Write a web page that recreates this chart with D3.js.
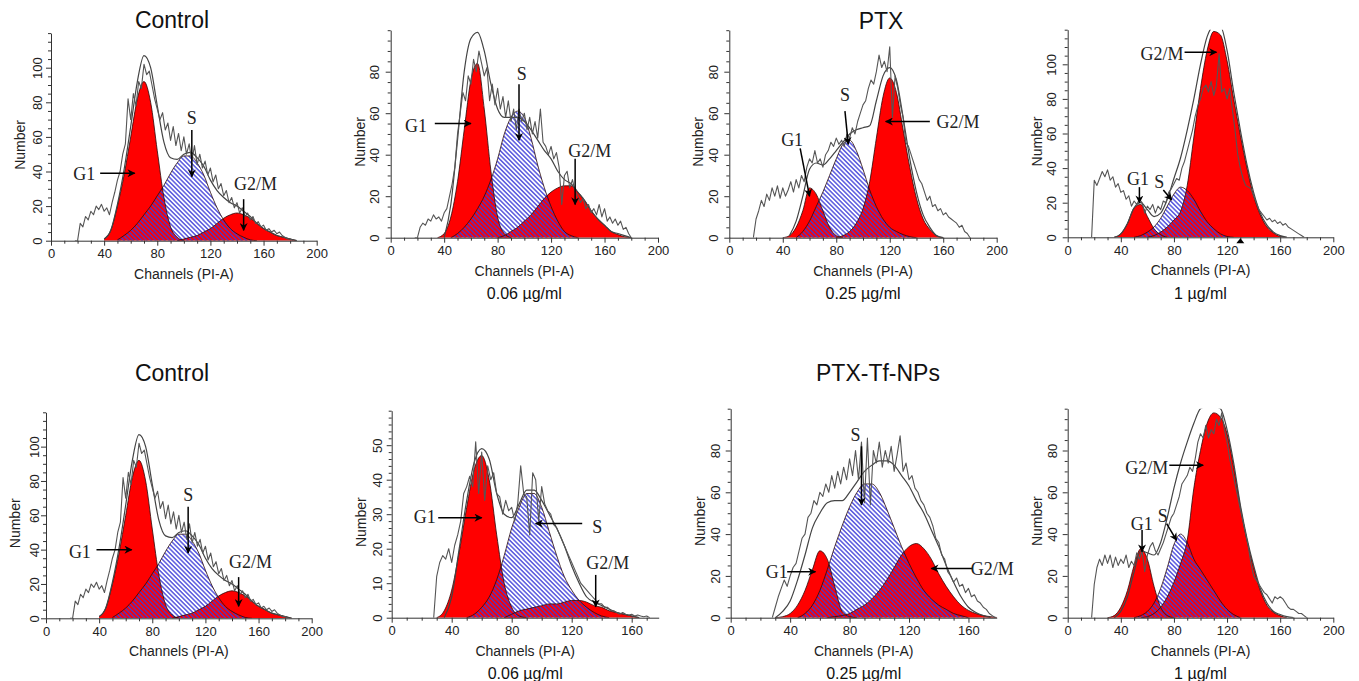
<!DOCTYPE html>
<html>
<head>
<meta charset="utf-8">
<script src="https://cdn.jsdelivr.net/npm/d3@7"></script>
<style>
  html, body { margin: 0; padding: 0; background: #fff; }
  svg { display: block; }
</style>
</head>
<body>
<svg id="fig" width="1359" height="681"></svg>
<script>
// ---------------------------------------------------------------------------
// DNA histograms (PI-A channels) with ModFit-style G1 / S / G2/M components.
// Raw counts are listed every 2 channels; fitted curves every 5 channels.
// ---------------------------------------------------------------------------

// Control (untreated cells)
const controlRaw = [0,0,10,8,14,12,17,15,20,18,21,17,19,15,22,28,35,40,50,56,82,70,85,78,92,88,102,96,98,90,82,76,70,74,64,68,58,66,55,62,52,60,50,56,46,55,44,50,42,46,38,42,34,38,30,33,26,29,22,25,19,22,16,19,14,16,12,14,10,11,8,9,6,7,5,6,4,5,3,2,1,1,0];
const controlFit = [1,6,21,41,66,92,107,100,78,57,48,47,50,51,48,43,35,29,25,22,20,17,14,10,7,5,3,2,1,0];
const controlG1  = [1,6,20,38,60,82,92,80,52,25,8,2,0];
const controlS   = [0.5,3,6,10,15,20,26,32,39,45,49,49,45,38,28,19,12,7,4,2,0.5,0];
const controlG2M = [0,1,2,3,5,7,10,13,15,16,15,13,10,7,5,3,2,1,0];

// PTX 0.06 µg/ml
const ptx06Raw = [0,0,5,7,6,9,8,11,9,10,8,12,14,20,26,34,50,60,70,66,78,74,86,80,90,84,78,82,66,74,64,72,62,68,58,66,56,62,52,62,56,60,52,58,50,56,48,62,46,44,40,44,38,41,34,16,30,32,24,28,22,20,17,19,14,16,12,14,11,16,10,14,8,10,7,9,6,8,4,5,2,0];
const ptx06Fit = [0,16,47,80,96,99,90,74,62,58,58,58,56,52,47,42,38,32,28,26,22,18,13,9,6,3,2,1,0];
const ptx06G1  = [0,2,10,27,52,76,84,62,32,10,2,0];
const ptx06S   = [0,2,5,9,14,20,28,38,50,58,61,58,48,35,24,15,8,3,1,0];
const ptx06G2M = [0,1,3,5,8,11,15,19,22,24,25,25,22,18,13,9,6,3,1.5,0.5,0];

// PTX 0.25 µg/ml
const ptx25Raw = [0,9,13,18,15,21,18,24,20,25,19,24,20,23,27,22,28,24,30,27,34,38,36,42,36,38,34,40,42,46,44,48,45,47,44,50,48,53,50,56,60,64,66,72,76,74,80,88,82,85,80,92,58,78,72,64,58,46,44,40,36,32,28,26,22,18,20,15,16,13,14,11,12,10,9,8,7,5,6,3,2,0];
const ptx25Fit = [1,8,20,33,36,35,38,42,46,50,52,53,54,66,78,82,76,58,38,22,11,5,1,0];
const ptx25G1  = [0,1,5,13,24,21,13,5,1,0];
const ptx25S   = [0,3,8,15,22,30,38,45,47,42,33,23,15,9,5,3,1.5,0.5,0];
const ptx25G2M = [0,1,3,7,14,27,48,68,77,70,52,34,19,9,4,1,0];

// PTX 1 µg/ml
const ptx1Raw = [0,33,30,34,38,35,39,33,35,29,31,26,27,22,24,18,21,19,22,20,14,18,16,19,14,18,16,21,20,26,28,31,34,33,40,44,50,56,62,70,76,80,86,88,84,90,82,88,106,84,86,80,86,74,62,48,40,34,30,29,28,24,20,16,14,12,10,11,9,10,8,9,7,8,6,5,4,3,2,1,0];
const ptx1Fit = [0,2,8,17,20,16,12,14,22,34,46,62,80,100,116,122,122,108,84,62,42,26,14,7,3,1,0];
const ptx1G1  = [0,2,8,17,19,12,5,1.5,0];
const ptx1S   = [0,1,3,6,11,18,25,29,27,22,15,9,5,2,0.5,0];
const ptx1G2M = [0,1,3,6,10,15,30,58,86,108,119,117,102,80,59,40,24,13,6,2.5,0.5,0];
const ptx1Marker = 130;

// PTX-Tf-NPs 0.06 µg/ml
const np06Raw = [0,12,16,18,17,20,16,21,24,28,36,38,41,38,51,36,48,34,44,40,42,36,35,30,34,31,32,28,33,44,36,35,24,42,40,28,38,33,31,30,27,26,24,22,20,18,16,14,12,10,9,8,7,6,5,4,4,3,3,2,2,1.5,1,1.5,1,0.8,1,0.5,0.8,0.5,0.3,0.5,0];
const np06Fit = [0,6,20,34,45,49,46,36,30,29,33,37,37,34,30,26,21,15,10,6,4.5,3.5,2.5,1.5,1,0.5,0];
const np06G1  = [0,2,8,19,32,43,47,40,24,10,3,0.5,0];
const np06S   = [0,1,3,6,11,18,26,32,36,36,32,25,18,12,8,5,3,1.5,0.5,0];
const np06G2M = [0,1,2,2.5,3,3.5,4,4,4.5,5,5,4.5,3.5,3,2,1.5,1,0.5,0];

// PTX-Tf-NPs 0.25 µg/ml
const np25Raw = [0,5,10,14,18,15,20,24,26,32,38,40,48,50,56,54,60,58,64,60,68,62,70,64,72,66,76,68,80,66,84,55,86,54,80,74,84,72,80,74,82,70,78,87,70,74,66,68,62,60,56,54,50,48,44,38,36,30,28,22,20,17,19,15,16,12,14,10,11,8,7,5,4,2,1,0];
const np25Fit = [0,3,8,18,30,43,50,55,56,56,60,65,70,73,75,75,73,68,63,56,50,42,34,25,17,10,5,2.5,1,0];
const np25G1  = [0,0.5,2,6,13,23,32,28,15,3,0.5,0];
const np25S   = [0,2,6,13,23,34,44,53,60,64,64,60,52,43,34,26,19,13,9,6,4,2,1,0];
const np25G2M = [0,0.5,1,2,4,6,9,13,18,24,30,34,35.5,33,28,21,15,10,6,3.5,2,1,0.5,0];

// PTX-Tf-NPs 1 µg/ml
const np1Raw = [0,16,24,28,25,30,26,30,24,29,25,28,26,30,24,27,25,31,28,32,22,30,34,36,32,30,33,36,40,44,48,50,54,58,64,66,68,72,70,76,84,88,86,92,86,90,88,95,92,98,90,84,76,70,64,58,52,46,40,34,26,20,18,16,14,12,11,9,7,10,9,10,9,7,5,4,4,3,2,2,1,0];
const np1Fit = [0,3,10,22,32,31,30,36,48,62,74,84,93,100,101,101,100,90,74,54,38,25,14,7,3,1.5,0.5,0];
const np1G1  = [0,1,5,13,25,33,28,15,5,1,0];
const np1S   = [0,1,3,7,14,24,35,40,36,28,23,18,13,8,4,1.5,0];
const np1G2M = [0,0.5,2,5,10,17,26,37,62,80,93,98,96,88,72,53,37,24,13,6,2.5,1,0];

// Tick values
const xTicks200 = [0, 40, 80, 120, 160, 200];
const xTicks160 = [0, 40, 80, 120, 160];
const yTicks100 = [0, 20, 40, 60, 80, 100];
const yTicks80  = [0, 20, 40, 60, 80];
const yTicks50  = [0, 10, 20, 30, 40, 50];

// Channel positions of a count list
const seq = (start, step, counts) => counts.map((c, i) => [start + i * step, c]);

// ---------------------------------------------------------------------------
// Panel layout (pixel frames) and annotation placement (data coordinates)
// ---------------------------------------------------------------------------
const panels = [
  { raw: seq(18,2,controlRaw), fit: seq(40,5,controlFit), g1: seq(40,5,controlG1), s: seq(50,5,controlS), g2m: seq(95,5,controlG2M),
    xMax: 200, yMax: 120, xTicks: xTicks200, yTicks: yTicks100, yMinor: 5,
    frame: { left: 51, right: 316.7, base: 240.7, top: 33.1 }, yLabOff: 14,
    notes: [ { t: 'G1', tx: 25, ty: 39, a: [37, 39, 63, 39] },
             { t: 'S', tx: 106, ty: 71, a: [106, 64, 106, 37] },
             { t: 'G2/M', tx: 154, ty: 33, a: [145, 24, 145, 6] } ] },
  { raw: seq(18,2,ptx06Raw), fit: seq(40,5,ptx06Fit), g1: seq(35,5,ptx06G1), s: seq(45,5,ptx06S), g2m: seq(80,5,ptx06G2M),
    xMax: 200, yMax: 100, xTicks: xTicks200, yTicks: yTicks80, yMinor: 5,
    frame: { left: 390.7, right: 658, base: 237.7, top: 30.2 }, yLabOff: 16,
    caption: '0.06 µg/ml',
    notes: [ { t: 'G1', tx: 19, ty: 54, a: [33, 55, 60, 55] },
             { t: 'S', tx: 98, ty: 79, a: [96, 74, 96, 47] },
             { t: 'G2/M', tx: 149, ty: 42, a: [138, 38, 138, 16] } ] },
  { raw: seq(18,2,ptx25Raw), fit: seq(45,5,ptx25Fit), g1: seq(40,5,ptx25G1), s: seq(50,5,ptx25S), g2m: seq(80,5,ptx25G2M),
    xMax: 200, yMax: 100, xTicks: xTicks200, yTicks: yTicks80, yMinor: 5,
    frame: { left: 729.3, right: 996.7, base: 237.7, top: 30.2 }, yLabOff: 16,
    caption: '0.25 µg/ml',
    notes: [ { t: 'G1', tx: 47, ty: 47, a: [53, 43, 60, 20] },
             { t: 'S', tx: 86.5, ty: 69, a: [86.5, 61, 89, 45] },
             { t: 'G2/M', tx: 171, ty: 56, a: [150, 56, 117, 56] } ] },
  { raw: seq(18,2,ptx1Raw), fit: seq(35,5,ptx1Fit), g1: seq(35,5,ptx1G1), s: seq(50,5,ptx1S), g2m: seq(60,5,ptx1G2M),
    xMax: 200, yMax: 120, xTicks: xTicks200, yTicks: yTicks100, yMinor: 5,
    frame: { left: 1067.7, right: 1333.3, base: 237.3, top: 29.7 }, yLabOff: 16,
    caption: '1 µg/ml', marker: ptx1Marker,
    notes: [ { t: 'G2/M', tx: 71, ty: 106, a: [88, 107, 112, 107] },
             { t: 'G1', tx: 53, ty: 34, a: [54, 29, 54, 20] },
             { t: 'S', tx: 69, ty: 32, a: [72, 27.4, 78.3, 21.6] } ] },
  { raw: seq(18,2,controlRaw), fit: seq(40,5,controlFit), g1: seq(40,5,controlG1), s: seq(50,5,controlS), g2m: seq(95,5,controlG2M),
    xMax: 200, yMax: 120, xTicks: xTicks200, yTicks: yTicks100, yMinor: 5,
    frame: { left: 46, right: 311.7, base: 618.3, top: 412.3 }, yLabOff: 12,
    notes: [ { t: 'G1', tx: 25.5, ty: 39, a: [38, 40, 64.5, 40] },
             { t: 'S', tx: 107, ty: 72, a: [107, 65, 107, 38] },
             { t: 'G2/M', tx: 154, ty: 33, a: [145, 24, 145, 7] } ] },
  { raw: seq(28,2,np06Raw), fit: seq(35,5,np06Fit), g1: seq(30,5,np06G1), s: seq(50,5,np06S), g2m: seq(75,5,np06G2M),
    xMax: 178, yMax: 60, xTicks: xTicks160, yTicks: yTicks50, yMinor: 2,
    frame: { left: 391.7, right: 658.7, base: 617.7, top: 410.7 }, yLabOff: 14,
    caption: '0.06 µg/ml',
    notes: [ { t: 'G1', tx: 22, ty: 29.4, a: [31, 29, 60, 29] },
             { t: 'S', tx: 137, ty: 26.4, a: [127, 27.3, 96, 27.3] },
             { t: 'G2/M', tx: 144, ty: 16, a: [136, 12.4, 136, 3.2] } ] },
  { raw: seq(28,2,np25Raw), fit: seq(30,5,np25Fit), g1: seq(30,5,np25G1), s: seq(45,5,np25S), g2m: seq(65,5,np25G2M),
    xMax: 179, yMax: 100, xTicks: xTicks160, yTicks: yTicks80, yMinor: 5,
    frame: { left: 730.7, right: 996.7, base: 617.7, top: 408.7 }, yLabOff: 15,
    caption: '0.25 µg/ml',
    notes: [ { t: 'S', tx: 84, ty: 87.5, a: [88, 82, 88, 54] },
             { t: 'G1', tx: 31, ty: 22, a: [38, 22, 57, 22] },
             { t: 'G2/M', tx: 176, ty: 23.6, a: [163, 23.6, 135, 23.6] } ] },
  { raw: seq(18,2,np1Raw), fit: seq(35,5,np1Fit), g1: seq(30,5,np1G1), s: seq(50,5,np1S), g2m: seq(55,5,np1G2M),
    xMax: 200, yMax: 100, xTicks: xTicks200, yTicks: yTicks80, yMinor: 5,
    frame: { left: 1067.7, right: 1333.3, base: 617.7, top: 408.7 }, yLabOff: 15,
    caption: '1 µg/ml',
    notes: [ { t: 'G2/M', tx: 59.5, ty: 71.6, a: [76.5, 73, 102, 73] },
             { t: 'G1', tx: 55.7, ty: 45, a: [56, 42, 56, 31.6] },
             { t: 'S', tx: 71.5, ty: 49, a: [74.5, 45, 82, 37] } ] }
];

const groupTitles = [
  { text: 'Control', x: 172, y: 20 },
  { text: 'PTX', x: 881, y: 21 },
  { text: 'Control', x: 172, y: 373 },
  { text: 'PTX-Tf-NPs', x: 878, y: 373 }
];

// ---------------------------------------------------------------------------
// Drawing
// ---------------------------------------------------------------------------
const SANS = "'Liberation Sans', Arial, Helvetica, sans-serif";
const SERIF = "'Liberation Serif', 'Times New Roman', serif";
const RED = '#ff0000';

const svg = d3.select('#fig');
const defs = svg.append('defs');

// Blue diagonal hatching for the S-phase component
const hatch = defs.append('pattern')
  .attr('id', 'sHatch')
  .attr('patternUnits', 'userSpaceOnUse')
  .attr('width', 3.2).attr('height', 3.2)
  .attr('patternTransform', 'rotate(-45)');
hatch.append('rect').attr('width', 1.6).attr('height', 3.2)
  .attr('fill', '#3c3cd8').attr('fill-opacity', 0.8);

defs.append('marker')
  .attr('id', 'arrowHead')
  .attr('viewBox', '0 0 10 10')
  .attr('refX', 9).attr('refY', 5)
  .attr('markerUnits', 'userSpaceOnUse')
  .attr('markerWidth', 9).attr('markerHeight', 8)
  .attr('orient', 'auto')
  .append('path').attr('d', 'M0,0 L10,5 L0,10 L3,5 Z').attr('fill', '#000');

panels.forEach((p, i) => {
  const f = p.frame;
  const x = d3.scaleLinear().domain([0, p.xMax]).range([f.left, f.right]);
  const y = d3.scaleLinear().domain([0, p.yMax]).range([f.base, f.top]);

  const g = svg.append('g').attr('class', 'panel');

  defs.append('clipPath').attr('id', 'clip' + i)
    .append('rect')
    .attr('x', f.left).attr('y', f.top)
    .attr('width', f.right - f.left).attr('height', f.base - f.top);

  const plot = g.append('g').attr('clip-path', `url(#clip${i})`);

  const area = d3.area()
    .x(d => x(d[0])).y0(y(0)).y1(d => y(d[1]))
    .curve(d3.curveMonotoneX);
  const smooth = d3.line()
    .x(d => x(d[0])).y(d => y(d[1]))
    .curve(d3.curveMonotoneX);
  const jagged = d3.line()
    .x(d => x(d[0])).y(d => y(d[1]));

  // G1 and G2/M peaks (solid red), S phase (hatched) on top
  plot.append('path').datum(p.g1).attr('d', area).attr('fill', RED);
  plot.append('path').datum(p.g2m).attr('d', area).attr('fill', RED);
  plot.append('path').datum(p.s).attr('d', area).attr('fill', 'url(#sHatch)');

  // component outlines
  [p.g1, p.s, p.g2m].forEach(c => {
    plot.append('path').datum(c).attr('d', smooth)
      .attr('fill', 'none').attr('stroke', '#2a0a0a').attr('stroke-width', 0.8);
  });

  // fitted total and raw histogram
  plot.append('path').datum(p.fit).attr('d', smooth)
    .attr('fill', 'none').attr('stroke', '#444').attr('stroke-width', 1.2);
  plot.append('path').datum(p.raw).attr('d', jagged)
    .attr('fill', 'none').attr('stroke', '#555').attr('stroke-width', 1.1)
    .attr('stroke-linejoin', 'round');

  // ---- axes ----
  const axisColor = '#333';
  const xMinor = d3.range(0, p.xMax + 0.001, 10).filter(v => !p.xTicks.includes(v));
  const yMinor = d3.range(0, p.yMax + 0.001, p.yMinor).filter(v => !p.yTicks.includes(v));

  const xAxis = g.append('g').attr('transform', `translate(0,${f.base})`)
    .call(d3.axisBottom(x).tickValues(p.xTicks).tickSize(5).tickSizeOuter(0).tickPadding(3));
  g.append('g').attr('transform', `translate(0,${f.base})`)
    .call(d3.axisBottom(x).tickValues(xMinor).tickSize(3).tickSizeOuter(0).tickFormat(''))
    .select('.domain').remove();

  const yAxis = g.append('g').attr('transform', `translate(${f.left},0)`)
    .call(d3.axisLeft(y).tickValues(p.yTicks).tickSize(5).tickSizeOuter(0));
  g.append('g').attr('transform', `translate(${f.left},0)`)
    .call(d3.axisLeft(y).tickValues(yMinor).tickSize(3).tickSizeOuter(0).tickFormat(''))
    .select('.domain').remove();

  g.selectAll('.domain, .tick line').attr('stroke', axisColor).attr('stroke-width', 1);

  xAxis.selectAll('text')
    .attr('font-family', SANS).attr('font-size', 13).attr('fill', '#222')
    .attr('y', 13).attr('dy', '0.35em');

  yAxis.selectAll('text')
    .attr('font-family', SANS).attr('font-size', 13).attr('fill', '#222')
    .attr('transform', 'rotate(-90)')
    .attr('x', 0).attr('y', -p.yLabOff).attr('dy', '0.35em')
    .attr('text-anchor', 'middle');

  // axis titles
  const xMid = (f.left + f.right) / 2;
  g.append('text')
    .attr('x', xMid).attr('y', f.base + 33).attr('dy', '0.35em')
    .attr('text-anchor', 'middle')
    .attr('font-family', SANS).attr('font-size', 14).attr('fill', '#222')
    .text('Channels (PI-A)');
  g.append('text')
    .attr('transform', `translate(${f.left - 31},${(f.base + f.top) / 2 + 8}) rotate(-90)`)
    .attr('dy', '0.35em').attr('text-anchor', 'middle')
    .attr('font-family', SANS).attr('font-size', 14).attr('fill', '#222')
    .text('Number');

  if (p.caption) {
    g.append('text')
      .attr('x', xMid).attr('y', f.base + 56).attr('dy', '0.35em')
      .attr('text-anchor', 'middle')
      .attr('font-family', SANS).attr('font-size', 16).attr('fill', '#111')
      .text(p.caption);
  }

  if (p.marker !== undefined) {
    const mx = x(p.marker);
    g.append('path')
      .attr('d', `M${mx},${f.base + 1} L${mx - 4},${f.base + 6} L${mx + 4},${f.base + 6} Z`)
      .attr('fill', '#000');
  }

  // ---- phase labels with arrows ----
  p.notes.forEach(n => {
    g.append('line')
      .attr('x1', x(n.a[0])).attr('y1', y(n.a[1]))
      .attr('x2', x(n.a[2])).attr('y2', y(n.a[3]))
      .attr('stroke', '#000').attr('stroke-width', 1.5)
      .attr('marker-end', 'url(#arrowHead)');
    g.append('text')
      .attr('x', x(n.tx)).attr('y', y(n.ty)).attr('dy', '0.35em')
      .attr('text-anchor', 'middle')
      .attr('font-family', SERIF).attr('font-size', 18).attr('fill', '#222')
      .text(n.t);
  });
});

// group titles
svg.append('g').selectAll('text').data(groupTitles).join('text')
  .attr('x', d => d.x).attr('y', d => d.y).attr('dy', '0.35em')
  .attr('text-anchor', 'middle')
  .attr('font-family', SANS).attr('font-size', 23).attr('fill', '#111')
  .text(d => d.text);
</script>
</body>
</html>
